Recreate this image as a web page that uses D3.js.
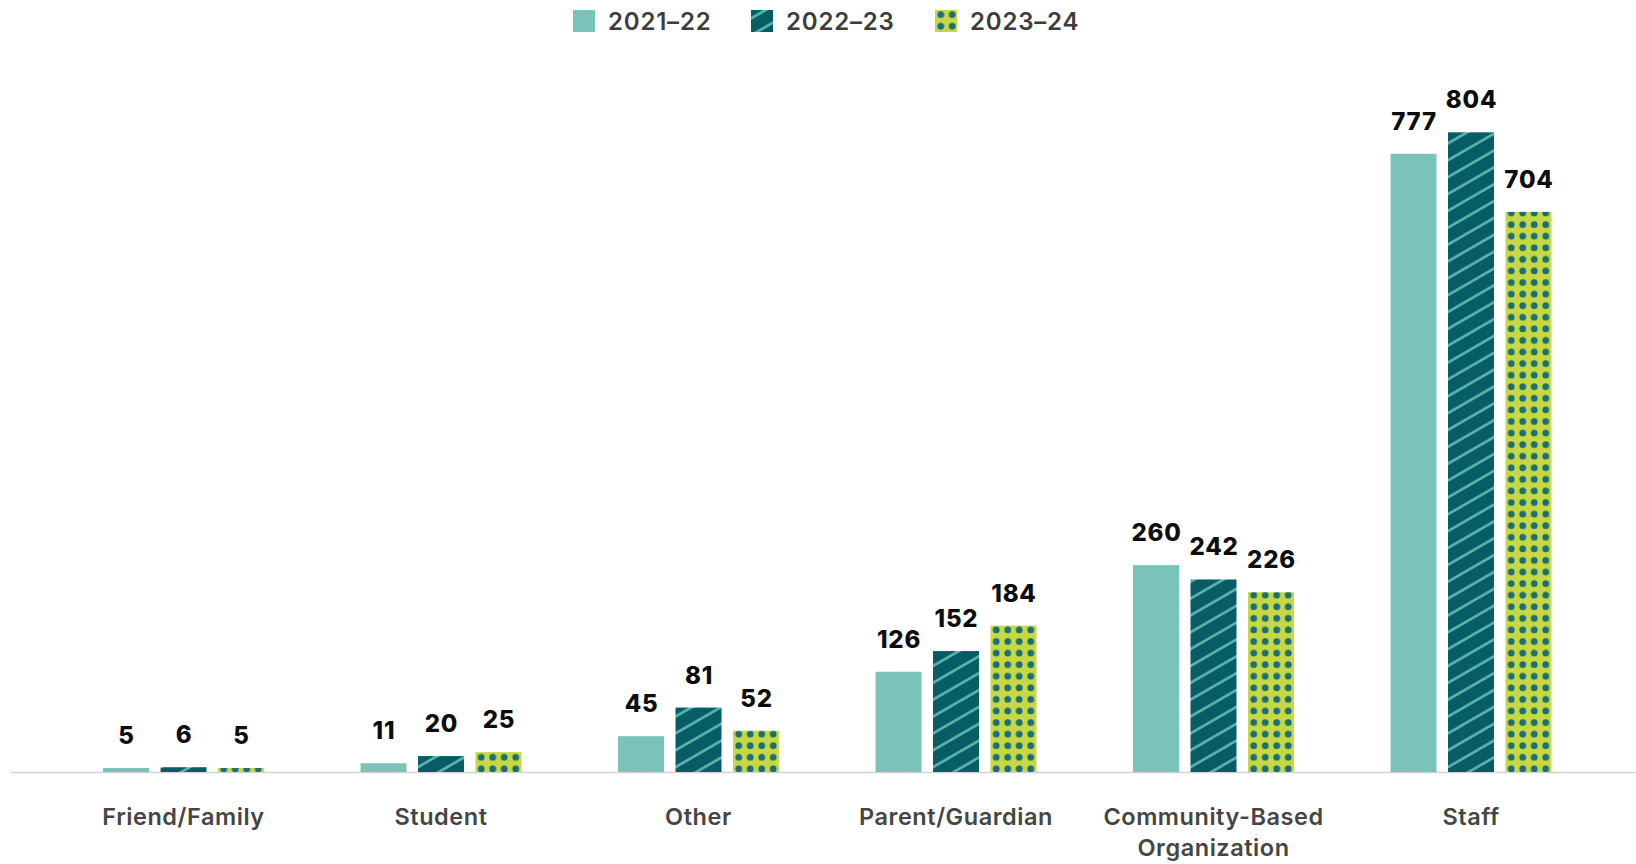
<!DOCTYPE html>
<html>
<head>
<meta charset="utf-8">
<script src="https://cdn.jsdelivr.net/npm/d3@7"></script>
<style>
  html, body { margin: 0; padding: 0; background: #ffffff; }
  svg { display: block; }
  text { font-family: Inter, "Open Sans", sans-serif; }
</style>
</head>
<body>
<svg id="chart" width="1636" height="864"></svg>
<script>
// Referral sources by school year
const categories = ["Friend/Family", "Student", "Other", "Parent/Guardian", "Community-Based Organization", "Staff"];
const seriesNames = ["2021\u201322", "2022\u201323", "2023\u201324"];
const values2021 = [5, 11, 45, 126, 260, 777];
const values2022 = [6, 20, 81, 152, 242, 804];
const values2023 = [5, 25, 52, 184, 226, 704];
const seriesValues = [values2021, values2022, values2023];

const svg = d3.select("#chart");
const W = 1636, H = 864;
const baseline = 772;

// Fill patterns: solid, diagonal stripes, dots
const defs = svg.append("defs");

const stripe = defs.append("pattern")
  .attr("id", "stripes")
  .attr("patternUnits", "userSpaceOnUse")
  .attr("width", 10).attr("height", 14.6)
  .attr("patternTransform", "rotate(-30)");
stripe.append("rect").attr("width", 10).attr("height", 14.6).attr("fill", "#075c66");
stripe.append("rect").attr("x", 0).attr("y", 6.1).attr("width", 10).attr("height", 2.5).attr("fill", "#5cbcaf");

const dots = defs.append("pattern")
  .attr("id", "dots")
  .attr("patternUnits", "userSpaceOnUse")
  .attr("x", 0).attr("y", 0)
  .attr("width", 11.5).attr("height", 11.58);
dots.append("rect").attr("width", 11.5).attr("height", 11.58).attr("fill", "#c6d944");
dots.append("circle").attr("cx", 5.75).attr("cy", 4.56).attr("r", 3.4).attr("fill", "#1b6d78");
// second copy so the dot tiles cleanly across the vertical seam
dots.append("circle").attr("cx", 5.75).attr("cy", 4.56 + 11.58).attr("r", 3.4).attr("fill", "#1b6d78");

const fills = ["#7ac3b8", "url(#stripes)", "url(#dots)"];

// Scales
const x0 = d3.scaleBand().domain(categories).range([54.75, 1599.75])
  .paddingInner(0.375).paddingOuter(0.1875);
const x1 = d3.scaleBand().domain(d3.range(3)).range([0, x0.bandwidth()])
  .paddingInner(0.2).paddingOuter(0);
const y = d3.scaleLinear().domain([0, 804]).range([baseline, 132.3]);

// Baseline
svg.append("line")
  .attr("x1", 11).attr("x2", W).attr("y1", baseline + 0.5).attr("y2", baseline + 0.5)
  .attr("stroke", "#d3d3d3").attr("stroke-width", 1.5);

// Bars
const rows = categories.map((c, i) => seriesValues.map((s, k) => ({ cat: c, k, v: s[i] })));
const groups = svg.append("g").selectAll("g.cat").data(rows).join("g")
  .attr("class", "cat");

const barG = groups.selectAll("g.bar").data(d => d).join("g")
  .attr("class", "bar")
  .attr("transform", d => `translate(${x0(d.cat) + x1(d.k)},0)`);

barG.append("rect")
  .attr("x", 0)
  .attr("y", d => y(d.v))
  .attr("width", x1.bandwidth())
  .attr("height", d => baseline - y(d.v))
  .attr("fill", d => fills[d.k]);

// Value labels
barG.append("text")
  .attr("x", x1.bandwidth() / 2 + 0.5)
  .attr("y", d => y(d.v) - 24)
  .attr("text-anchor", "middle")
  .attr("font-size", 24)
  .attr("font-weight", 800)
  .attr("letter-spacing", 0.8)
  .attr("fill", "#0d0d0d")
  .text(d => d.v);

// Category axis
const xAxis = d3.axisBottom(x0).tickSize(0).tickPadding(0);
const axisG = svg.append("g").attr("transform", `translate(0,${baseline})`).call(xAxis);
axisG.select(".domain").remove();
axisG.selectAll(".tick text").each(function(d) {
  const t = d3.select(this);
  const words = d.split(" ");
  t.text(null)
    .attr("y", 0)
    .attr("dy", null)
    .attr("font-family", "Inter, sans-serif")
    .attr("font-size", 23.5)
    .attr("font-weight", 600)
    .attr("letter-spacing", 0.55)
    .attr("fill", "#454545");
  words.forEach((w, i) => {
    t.append("tspan").attr("x", 0).attr("y", 53 + i * 31).text(w);
  });
});

// Legend
const legendX = [573, 751, 935];
const legend = svg.append("g").selectAll("g").data(seriesNames).join("g")
  .attr("transform", (d, i) => `translate(${legendX[i]},10)`);
legend.append("rect").attr("width", 22).attr("height", 22).attr("fill", (d, i) => fills[i]);
legend.append("text")
  .attr("x", 35).attr("y", 19.5)
  .attr("font-size", 24)
  .attr("font-weight", 600)
  .attr("letter-spacing", 0.8)
  .attr("fill", "#3d3d3d")
  .text(d => d);
</script>
</body>
</html>
